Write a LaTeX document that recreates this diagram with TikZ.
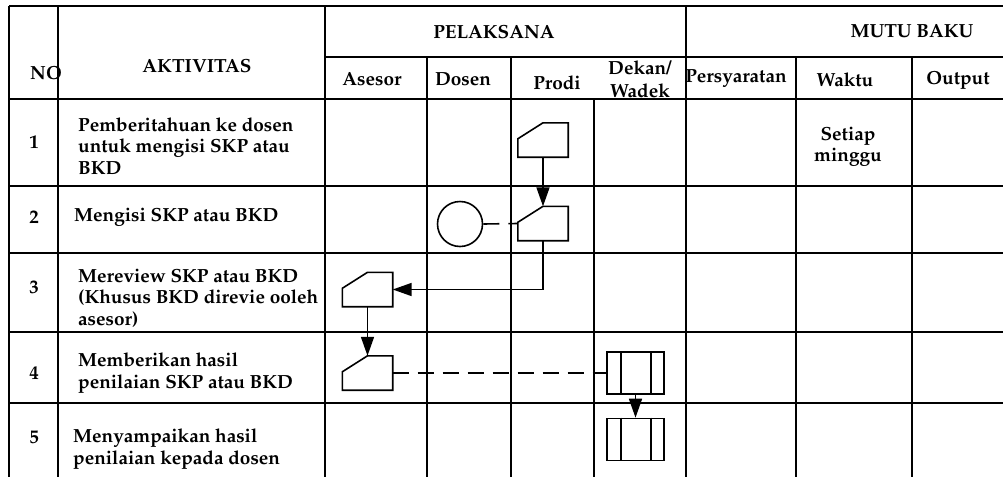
\documentclass[tikz,border=0pt]{standalone}
\usepackage[T1]{fontenc}
\usepackage{mathpazo}
\usetikzlibrary{arrows.meta}
\begin{document}
\begin{tikzpicture}[x=1pt,y=-1pt,
  gridline/.style={line width=2pt},
  lbl/.style={font=\fontsize{19}{21.5}\selectfont\bfseries, inner sep=0pt, align=center},
  txt/.style={lbl, anchor=west, align=left},
  flow/.style={line width=1.6pt},
  arr/.style={flow, -{Triangle[width=13pt,length=19pt]}},
  dashline/.style={flow, dash pattern=on 16pt off 9pt},
  cardbox/.style={minimum width=50pt, minimum height=34pt, inner sep=0pt},
  procbox/.style={draw, flow, minimum width=57pt, minimum height=42pt, inner sep=0pt},
]
\useasboundingbox (0,0) rectangle (1003,477);
\clip (0,0) rectangle (1003,477);
% ---- table grid ----
\draw[gridline] (9,6) -- (1003,6);
\draw[gridline] (325,57) -- (1003,57);
\foreach \yy in {99,186,253,332,403} \draw[gridline] (9,\yy) -- (1003,\yy);
\foreach \xx in {9,58,325,686} \draw[gridline] (\xx,6) -- (\xx,477);
\foreach \xx in {427,511,796,912} \draw[gridline] (\xx,57) -- (\xx,477);
\draw[gridline] (594,99) -- (594,477);
% ---- header ----
\node[lbl, anchor=west] (hno) at (30,73) {NO};
\node[lbl] (hakt) at (197,66) {AKTIVITAS};
\node[lbl] (hpel) at (494,32) {PELAKSANA};
\node[lbl] (hmutu) at (912,31) {MUTU BAKU};
\node[lbl] (hases) at (372,79) {Asesor};
\node[lbl] (hdos) at (463,79) {Dosen};
\node[lbl] (hprodi) at (557,83) {Prodi};
\node[lbl] (hdekan) at (640,79) {Dekan/\\[2pt]Wadek};
\node[lbl] (hpers) at (736,79) {Persyaratan};
\node[lbl] (hwaktu) at (845,80) {Waktu};
\node[lbl] (hout) at (958,80) {Output};
% ---- rows ----
\node[lbl] (n1) at (34,142) {1};
\node[lbl] (n2) at (34,217) {2};
\node[lbl] (n3) at (34,287) {3};
\node[lbl] (n4) at (34,373) {4};
\node[lbl] (n5) at (34,437) {5};
\node[txt] (a1) at (78,146) {Pemberitahuan ke dosen\\untuk mengisi SKP atau\\BKD};
\node[txt] (a2) at (74,217) {Mengisi SKP atau BKD};
\node[txt] (a3) at (78,298) {Mereview SKP atau BKD\\(Khusus BKD direvie ooleh\\asesor)};
\node[txt] (a4) at (78,373) {Memberikan hasil\\penilaian SKP atau BKD};
\node[txt] (a5) at (73,449) {Menyampaikan hasil\\penilaian kepada dosen};
\node[lbl] (w1) at (848,147) {Setiap\\minggu};
% ---- flow shapes ----
\newcommand{\cardshape}[3]{%
  \node[cardbox] (#1) at (#2,#3) {};
  \draw[flow] (#1.south west) -- (#1.south east) -- (#1.north east) -- (#1.north)
    -- ([yshift=-16pt]#1.north west) -- cycle;}
\cardshape{p1}{543}{140}
\cardshape{p2}{543}{223.5}
\cardshape{p3}{367.5}{289.5}
\cardshape{p4}{367.5}{373}
\node[draw, flow, circle, minimum size=45pt, inner sep=0pt] (c2) at (460,224) {};
\newcommand{\procshape}[3]{%
  \node[procbox] (#1) at (#2,#3) {};
  \draw[flow] ([xshift=15pt]#1.north west) -- ([xshift=15pt]#1.south west);
  \draw[flow] ([xshift=-14pt]#1.north east) -- ([xshift=-14pt]#1.south east);}
\procshape{d4}{635.5}{373}
\procshape{d5}{635.5}{439.5}
% ---- connectors ----
\draw[arr] (p1.south) -- (p2.north);
\draw[dashline] (c2.east) -- (p2.west);
\draw[arr] (p2.south) |- (p3.east);
\draw[arr] (p3.south) -- (p4.north);
\draw[dashline] (p4.east) -- (d4.west);
\draw[arr] (d4.south) -- (d5.north);
\end{tikzpicture}
\end{document}
